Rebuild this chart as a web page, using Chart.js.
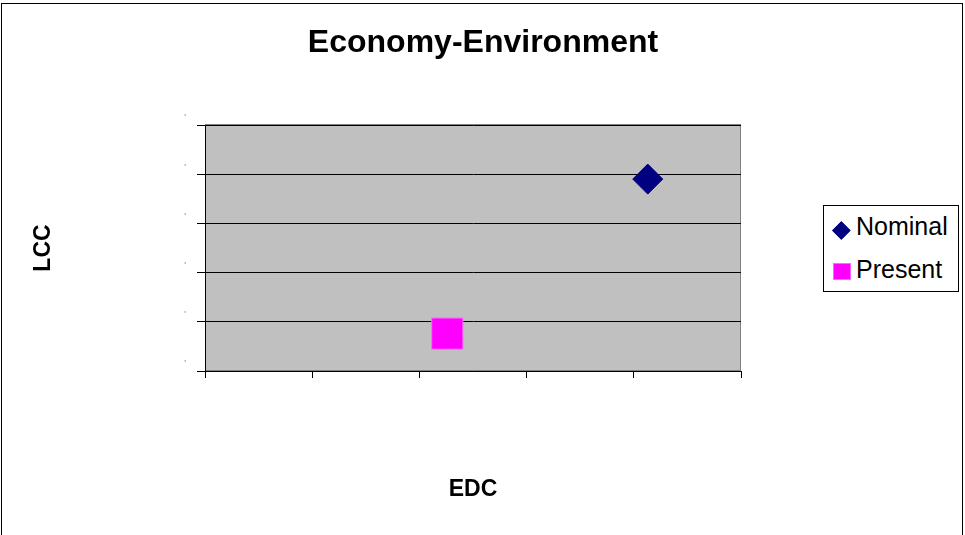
<!DOCTYPE html>
<html>
<head>
<meta charset="utf-8">
<script src="https://cdn.jsdelivr.net/npm/chart.js@4.4.1/dist/chart.umd.min.js"></script>
<style>
html,body{margin:0;padding:0;background:#fff;}
#wrap{position:relative;width:965px;height:535px;overflow:hidden;font-family:"Liberation Sans",Arial,sans-serif;}
#frame{position:absolute;left:1px;top:3px;width:962px;height:560px;border:1px solid #000;box-sizing:border-box;pointer-events:none;}
canvas{position:absolute;left:0;top:0;}
#legend{position:absolute;left:823px;top:205px;width:136px;height:87px;border:1px solid #000;box-sizing:border-box;background:#fff;}
.item{position:absolute;font-size:25px;line-height:25px;color:#000;white-space:nowrap;}
.mk{position:absolute;box-sizing:border-box;}
</style>
</head>
<body>
<div id="wrap">
  <canvas id="chart" width="965" height="535"></canvas>
  <div id="frame"></div>
  <div id="legend"></div>
</div>
<script>
// data
const chartTitle = 'Economy-Environment';
const xTitle = 'EDC';
const yTitle = 'LCC';
const seriesNames = ['Nominal', 'Present'];
const edcValues = [4.13, 2.26];
const lccValues = [3.90, 0.76];
const xRange = [0, 5];
const yRange = [0, 5];
const yTickLabels = ["'", "'", "'", "'", "'", "'"];

const colors = ['#000080', '#FF00FF'];
const borders = ['#000080', '#FF66FF'];
const styles = ['rectRot', 'rect'];
const radii = [15, 22];
const FONT = '"Liberation Sans", Arial, sans-serif';

const plotBg = {
  id: 'plotBg',
  beforeDraw(chart){
    const {ctx, chartArea:a} = chart;
    ctx.save();
    ctx.fillStyle = '#C0C0C0';
    ctx.fillRect(a.left, a.top, a.right-a.left, a.bottom-a.top);
    ctx.strokeStyle = '#808080'; ctx.lineWidth = 1;
    ctx.strokeRect(a.left+0.5, a.top-0.5, a.right-a.left-1, a.bottom-a.top);
    ctx.restore();
  }
};

const xlTitle = {
  id: 'xlTitle',
  afterDraw(chart){
    const ctx = chart.ctx;
    ctx.save();
    ctx.font = 'bold 32px ' + FONT;
    ctx.fillStyle = '#000';
    ctx.textAlign = 'center'; ctx.textBaseline = 'middle';
    ctx.fillText(chartTitle, 483, 43);
    ctx.restore();
  }
};

const datasets = seriesNames.map((name, i) => ({
  label: name,
  data: [{x: edcValues[i], y: lccValues[i]}],
  pointStyle: styles[i],
  pointRadius: radii[i],
  pointHoverRadius: radii[i],
  backgroundColor: colors[i],
  borderColor: borders[i],
  borderWidth: 1
}));

const chart = new Chart(document.getElementById('chart'), {
  type: 'scatter',
  data: {datasets},
  options: {
    responsive: false,
    animation: false,
    layout: {padding: {top: 125, right: 224, bottom: 0, left: 0}},
    plugins: {legend: {display: false}, tooltip: {enabled: false}, title: {display: false}},
    scales: {
      x: {
        type: 'linear', position: 'bottom', min: xRange[0], max: xRange[1],
        ticks: {stepSize: 1, display: false},
        grid: {drawOnChartArea: false, drawTicks: true, tickLength: 7, color: '#000'},
        border: {color: '#000'},
        title: {display: true, text: xTitle, color: '#000', font: {family: FONT, size: 23, weight: 'bold'}, padding: {top: 0, bottom: 32}},
        afterFit(s){ s.height = 164; }
      },
      y: {
        type: 'linear', min: yRange[0], max: yRange[1],
        ticks: {stepSize: 1, color: '#808080', padding: 11, font: {family: FONT, size: 9, lineHeight: '14px'},
          callback: (v, i) => [yTickLabels[i], '']},
        grid: {color: '#000', tickLength: 8},
        border: {color: '#000'},
        title: {display: true, text: yTitle, color: '#000', font: {family: FONT, size: 23, weight: 'bold'}, padding: {top: 30, bottom: 0}},
        afterFit(s){ s.width = 205; }
      }
    }
  },
  plugins: [plotBg, xlTitle]
});

// legend box built from the datasets
const leg = document.getElementById('legend');
const rows = [
  {mkLeft: 11.35, mkTop: 17.65, mkSize: 12.7, rot: 45, textTop: 7.8},
  {mkLeft: 9.35, mkTop: 56.65, mkSize: 17.3, rot: 0, textTop: 50.5}
];
chart.data.datasets.forEach((d, i) => {
  const r = rows[i];
  const m = document.createElement('div');
  m.className = 'mk';
  m.style.cssText = `left:${r.mkLeft}px;top:${r.mkTop}px;width:${r.mkSize}px;height:${r.mkSize}px;background:${d.backgroundColor};border:1px solid ${d.borderColor};transform:rotate(${r.rot}deg)`;
  leg.appendChild(m);
  const t = document.createElement('div');
  t.className = 'item';
  t.style.left = '32px'; t.style.top = r.textTop + 'px';
  t.textContent = d.label;
  leg.appendChild(t);
});
</script>
</body>
</html>
